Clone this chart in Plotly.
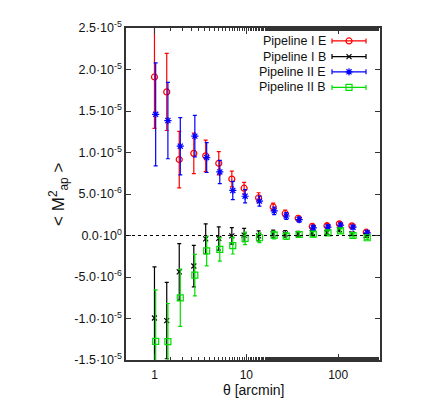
import plotly.graph_objects as go


# angular scales [arcmin]
theta_I = [1.0, 1.36, 1.86, 2.68, 3.61, 5.01, 6.95, 9.46, 13.6, 19.6,
	26.5, 36.7, 52.2, 75.5, 103, 141, 202]
theta_II = [1.03, 1.40, 1.91, 2.75, 3.70, 5.14, 7.12, 9.70, 13.9, 20.1,
	27.2, 37.6, 53.5, 77.4, 106, 145, 207]

# <M_ap^2> in units of 1e-5
e_I = [1.91, 1.73, 0.915, 0.99, 0.96, 0.87, 0.68, 0.57, 0.455, 0.344,
	0.265, 0.208, 0.109, 0.118, 0.141, 0.116, 0.04]
e_I_err = [0.62, 0.465, 0.34, 0.245, 0.19, 0.14, 0.095, 0.07, 0.06, 0.045,
	0.04, 0.03, 0.03, 0.025, 0.025, 0.02, 0.02]

b_I = [-0.994, -1.025, -0.438, -0.368, -0.04, -0.035, -0.004, 0.005, -0.005, 0.02,
	0.02, 0.02, 0.035, 0.035, 0.07, 0.02, 0.0]
b_I_err = [0.615, 0.46, 0.34, 0.25, 0.18, 0.14, 0.1, 0.08, 0.06, 0.045,
	0.04, 0.03, 0.03, 0.025, 0.025, 0.02, 0.02]

e_II = [1.46, 1.385, 1.076, 1.197, 0.939, 0.766, 0.543, 0.473, 0.414, 0.297,
	0.235, 0.191, 0.092, 0.102, 0.125, 0.1, 0.032]
e_II_err = [0.62, 0.46, 0.345, 0.25, 0.18, 0.14, 0.11, 0.08, 0.06, 0.045,
	0.04, 0.03, 0.03, 0.025, 0.025, 0.02, 0.02]

b_II = [-1.276, -1.279, -0.751, -0.477, -0.186, -0.168, -0.123, -0.035, -0.027, 0.004,
	-0.008, 0.012, 0.016, 0.032, 0.055, 0.0, -0.027]
b_II_err = [0.62, 0.46, 0.345, 0.25, 0.18, 0.14, 0.1, 0.075, 0.06, 0.045,
	0.04, 0.03, 0.03, 0.025, 0.025, 0.02, 0.02]

y_ticks = [-1.5e-5, -1.0e-5, -5.0e-6, 0.0, 5.0e-6, 1.0e-5, 1.5e-5, 2.0e-5, 2.5e-5]
y_ticktext = ['-1.5·10<sup>-5</sup>', '-1.0·10<sup>-5</sup>', '-5.0·10<sup>-6</sup>',
	'0.0·10<sup>0</sup>', '5.0·10<sup>-6</sup>', '1.0·10<sup>-5</sup>',
	'1.5·10<sup>-5</sup>', '2.0·10<sup>-5</sup>', '2.5·10<sup>-5</sup>']
x_ticks = [1, 10, 100]
x_ticktext = ['1', '10', '100']

FONT = 'Liberation Sans, Arial, sans-serif'

# name, x, y, err, colour, symbol, size
series = [
	('Pipeline I E', theta_I, e_I, e_I_err, '#ff0000', 'circle-open', 6),
	('Pipeline I B', theta_I, b_I, b_I_err, '#000000', 'x-thin-open', 5),
	('Pipeline II E', theta_II, e_II, e_II_err, '#0000ff', 'asterisk-open', 6),
	('Pipeline II B', theta_II, b_II, b_II_err, '#00dd00', 'square-open', 6),
]

fig = go.Figure()

for name, x, y, err, col, sym, size in series:
	fig.add_trace(go.Scatter(
		x=x, y=[v * 1e-5 for v in y], mode='markers', name=name,
		marker=dict(symbol=sym, size=size, color=col, line=dict(color=col, width=1.2)),
		error_y=dict(type='data', array=[v * 1e-5 for v in err], color=col,
			thickness=1.2, width=2),
		showlegend=False,
	))

# gnuplot-style key: text on the left, sample on the right
key_rows = [0.961, 0.914, 0.868, 0.821]
for (name, x, y, err, col, sym, size), ky in zip(series, key_rows):
	fig.add_trace(go.Scatter(
		x=[0.878], y=[ky], xaxis='x2', yaxis='y2', mode='markers',
		marker=dict(symbol=sym, size=size, color=col, line=dict(color=col, width=1.2)),
		error_x=dict(type='constant', value=0.067, color=col, thickness=1.2, width=2.5),
		showlegend=False, hoverinfo='skip',
	))
	fig.add_annotation(x=0.797, y=ky, xref='paper', yref='paper', text=name,
		showarrow=False, xanchor='right', yanchor='middle',
		font=dict(family=FONT, size=12.5, color='#111'))

fig.add_shape(type='line', xref='paper', yref='y', x0=0, x1=1, y0=0, y1=0,
	line=dict(color='#000', width=1, dash='3px,3px'))

fig.add_annotation(x=-0.268, y=0.5, xref='paper', yref='paper',
	text='&lt; M<sup>2</sup><sub>ap</sub> &gt;', textangle=-90, showarrow=False,
	xanchor='center', yanchor='middle', font=dict(family=FONT, size=17, color='#111'))
fig.add_annotation(x=0.5, y=-0.1202, xref='paper', yref='paper',
	text='θ [arcmin]', showarrow=False, xanchor='center', yanchor='bottom',
	font=dict(family=FONT, size=14, color='#111'))

# the page body adds an 8px margin, so the figure is shrunk by that
fig.update_layout(
	width=420, height=393,
	margin=dict(l=118, r=48, t=11, b=41),
	plot_bgcolor='white', paper_bgcolor='white',
	font=dict(family=FONT, size=12.5, color='#111'),
	xaxis=dict(type='log', range=[-0.31, 2.455], tickvals=x_ticks, ticktext=x_ticktext,
		tickfont=dict(size=12),
		showgrid=False, zeroline=False, showline=True, linecolor='#333', linewidth=1.5,
		mirror='ticks', ticks='inside', ticklen=6, tickcolor='#333',
		minor=dict(ticks='inside', ticklen=3, tickcolor='#333', showgrid=False),
		ticklabelstandoff=3),
	yaxis=dict(range=[-1.5e-5, 2.5e-5], tickvals=y_ticks, ticktext=y_ticktext,
		showgrid=False, zeroline=False, showline=True, linecolor='#333', linewidth=1.5,
		mirror='ticks', ticks='inside', ticklen=5, tickcolor='#333'),
	xaxis2=dict(range=[0, 1], overlaying='x', visible=False, fixedrange=True),
	yaxis2=dict(range=[0, 1], overlaying='y', visible=False, fixedrange=True),
)

fig.write_html("out.html")
